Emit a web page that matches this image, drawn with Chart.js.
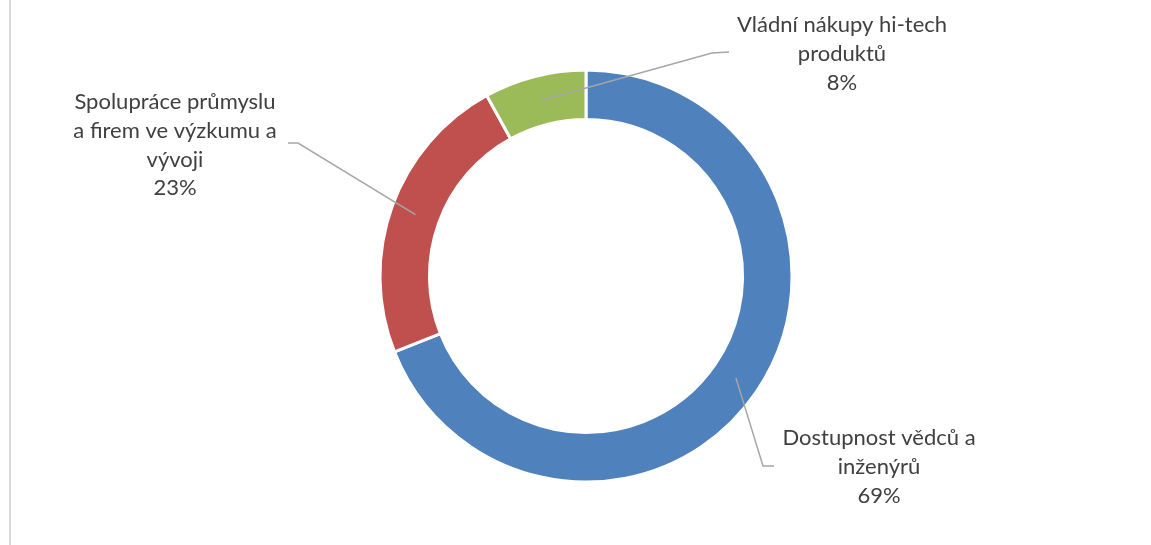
<!DOCTYPE html>
<html>
<head>
<meta charset="utf-8">
<script src="https://cdn.jsdelivr.net/npm/chart.js@4/dist/chart.umd.min.js"></script>
<style>
  body { margin: 0; background: #fff; }
  #wrap { position: relative; width: 1151px; height: 545px; }
  #edge { position: absolute; left: 9px; top: 0; width: 2px; height: 545px; background: #d9d9d9; }
</style>
</head>
<body>
<div id="wrap">
  <div id="edge"></div>
  <canvas id="chart" width="1151" height="545"></canvas>
</div>
<script>
const labels = [
  ['Dostupnost vědců a', 'inženýrů'],
  ['Spolupráce průmyslu', 'a firem ve výzkumu a', 'vývoji'],
  ['Vládní nákupy hi-tech', 'produktů']
];
const data = [69, 23, 8];
const colors = ['#4f81bd', '#c0504d', '#9bbb59'];

// where each label sits and where its leader line bends
const labelBoxes = [
  { x: 879, y: 438, elbow: [763, 466], end: [774, 466] },
  { x: 175, y: 102, elbow: [298, 143], end: [288, 143] },
  { x: 842, y: 25,  elbow: [712, 53],  end: [729, 52] }
];

const leaderLabels = {
  id: 'leaderLabels',
  afterDatasetsDraw(chart) {
    const ctx = chart.ctx;
    const arcs = chart.getDatasetMeta(0).data;
    const total = data.reduce((a, b) => a + b, 0);
    ctx.save();
    arcs.forEach((arc, i) => {
      const p = arc.tooltipPosition();
      const box = labelBoxes[i];
      ctx.strokeStyle = '#a6a6a6';
      ctx.lineWidth = 1.5;
      ctx.beginPath();
      ctx.moveTo(p.x, p.y);
      ctx.lineTo(box.elbow[0], box.elbow[1]);
      ctx.lineTo(box.end[0], box.end[1]);
      ctx.stroke();

      const lines = labels[i].concat([Math.round(data[i] / total * 100) + '%']);
      ctx.fillStyle = '#404040';
      ctx.font = '22px Lato';
      ctx.textAlign = 'center';
      ctx.textBaseline = 'middle';
      lines.forEach((t, k) => ctx.fillText(t, box.x, box.y + k * 28.8));
    });
    ctx.restore();
  }
};

const ctx = document.getElementById('chart').getContext('2d');
new Chart(ctx, {
  type: 'doughnut',
  data: {
    labels: labels,
    datasets: [{
      data: data,
      backgroundColor: colors,
      borderColor: '#ffffff',
      borderWidth: 3
    }]
  },
  options: {
    responsive: false,
    animation: false,
    radius: 206,
    cutout: '76%',
    layout: { padding: { left: 21, right: 0, top: 7, bottom: 0 } },
    plugins: {
      legend: { display: false },
      tooltip: { enabled: false }
    }
  },
  plugins: [leaderLabels]
});
</script>
</body>
</html>
